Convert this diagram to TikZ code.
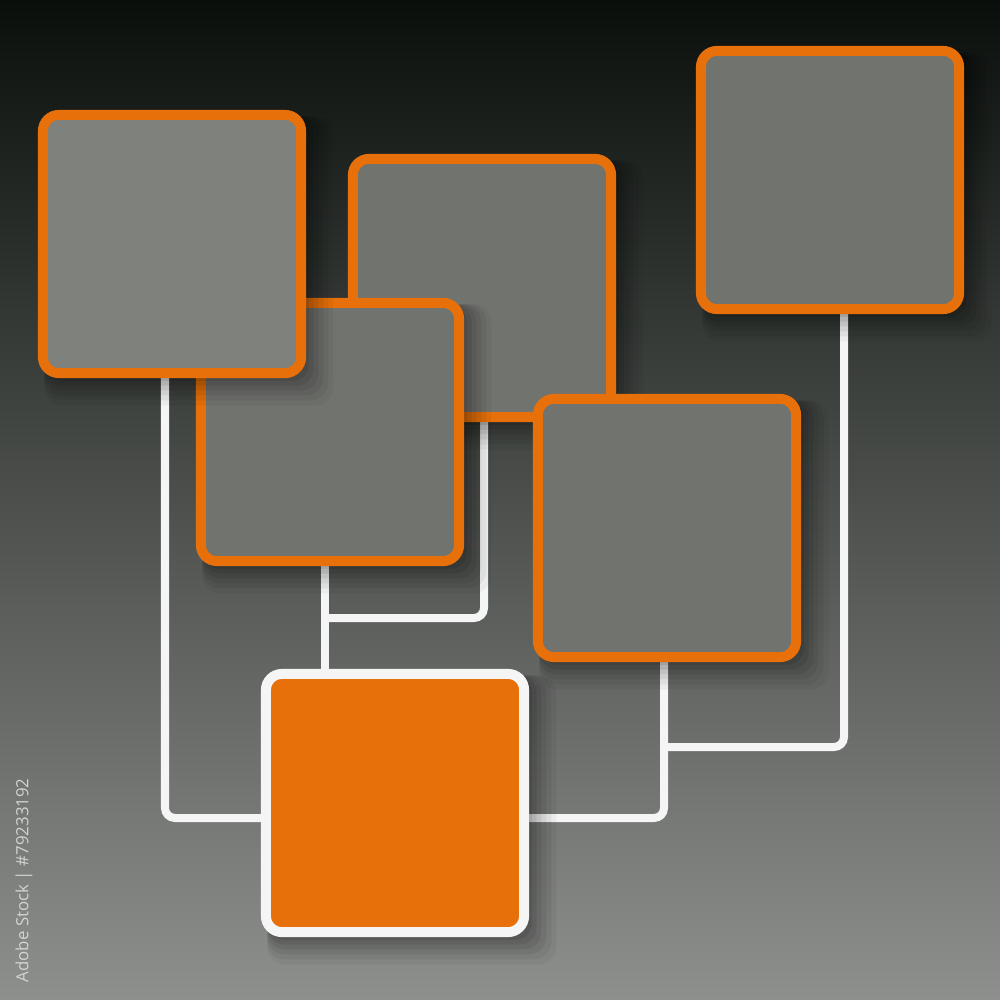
\documentclass[tikz,border=0pt]{standalone}
\usepackage{fontspec}
\usetikzlibrary{shadows}
\newfontfamily\stockfont{Open Sans}

\definecolor{boxorange}{HTML}{E8700A}
\definecolor{boxgray}{HTML}{71736F}
\definecolor{bgtop}{HTML}{0A0F0C}
\definecolor{bgmid}{HTML}{4B4F4C}
\definecolor{bgbottom}{HTML}{8E908D}
\definecolor{wirewhite}{HTML}{F5F5F5}
\definecolor{stocktext}{HTML}{D2D3D1}

\pgfdeclarelayer{backdrop}
\pgfdeclarelayer{wires}
\pgfsetlayers{backdrop,wires,main}

\tikzset{
  softshadow/.style={
    general shadow={fill=black, opacity=0.04, shadow xshift=0.15cm, shadow yshift=-0.15cm, shadow scale=1.12},
    general shadow={fill=black, opacity=0.05, shadow xshift=0.13cm, shadow yshift=-0.13cm, shadow scale=1.10},
    general shadow={fill=black, opacity=0.06, shadow xshift=0.11cm, shadow yshift=-0.11cm, shadow scale=1.08},
    general shadow={fill=black, opacity=0.07, shadow xshift=0.09cm, shadow yshift=-0.09cm, shadow scale=1.06},
    general shadow={fill=black, opacity=0.08, shadow xshift=0.07cm, shadow yshift=-0.07cm, shadow scale=1.04},
    general shadow={fill=black, opacity=0.09, shadow xshift=0.05cm, shadow yshift=-0.05cm, shadow scale=1.02}},
  panel/.style={rectangle, rounded corners=0.16cm, draw=boxorange, fill=boxgray,
    line width=0.1cm, minimum size=2.58cm, inner sep=0pt, softshadow},
  mainpanel/.style={panel, draw=wirewhite, fill=boxorange},
  wire/.style={draw=wirewhite, line width=0.08cm, rounded corners=0.1cm}
}

\begin{document}
\begin{tikzpicture}[x=0.01cm,y=-0.01cm]
  \useasboundingbox (0,0) rectangle (1000,1000);

  \begin{pgfonlayer}{backdrop}
    \shade[top color=bgtop, middle color=bgmid, bottom color=bgbottom] (0,0) rectangle (1000,1000);
  \end{pgfonlayer}

  % panels, back to front
  \node[panel] (b2) at (482,288) {};
  \node[panel] (b3) at (330,432) {};
  \node[panel, fill=boxgray!90!white] (b1) at (172,244) {};
  \node[panel] (b5) at (667,528) {};
  \node[panel] (b4) at (830,180) {};
  \node[mainpanel] (b6) at (395,803) {};

  % bends of the wires
  \coordinate (k1) at (165,818);
  \coordinate (k2) at (325,618);
  \coordinate (k3) at (484,618);
  \coordinate (k4) at (664,818);
  \coordinate (k5) at (844,747);

  \begin{pgfonlayer}{wires}
    \draw[wire] (b1.south -| k1) |- (b6.west |- k1);
    \draw[wire] (b3.south -| k2) -- (b6.north -| k2);
    \draw[wire] (b2.south -| k3) |- (k2);
    \draw[wire] (b5.south -| k4) |- (b6.east |- k4);
    \draw[wire] (b4.south -| k5) |- (k5 -| k4);
  \end{pgfonlayer}

  \node[rotate=90, anchor=west, inner sep=0pt, text=stocktext,
    font=\stockfont\fontsize{4.8}{5}\selectfont] (stockid) at (24,983) {Adobe Stock | \#79233192};
\end{tikzpicture}
\end{document}
